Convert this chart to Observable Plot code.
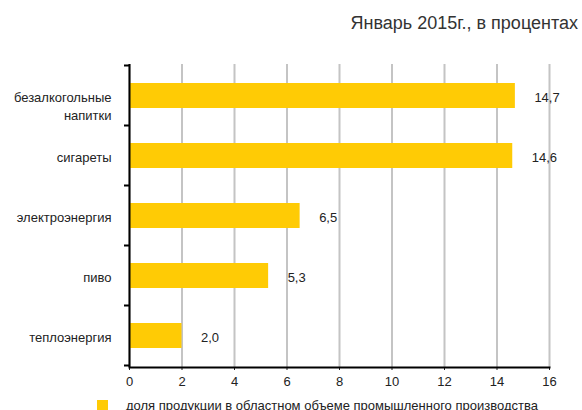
<!DOCTYPE html>
<html>
<head>
<meta charset="utf-8">
<script src="https://cdn.jsdelivr.net/npm/d3@7"></script>
<script src="https://cdn.jsdelivr.net/npm/@observablehq/plot@0.6"></script>
<style>
  html, body { margin: 0; padding: 0; background: #fff; }
  #wrap { position: relative; width: 582px; height: 410px; overflow: hidden; font-family: "Liberation Sans", Arial, sans-serif; }
  #title { position: absolute; right: 4px; top: 13px; font-family: "Liberation Sans", Arial, sans-serif; font-size: 18px; line-height: 20px; color: #333; white-space: nowrap; }
  #chart { position: absolute; left: 0; top: 0; }
  #legend { position: absolute; left: 97px; top: 398px; font-family: "Liberation Sans", Arial, sans-serif; font-size: 13px; line-height: 15px; color: #222; white-space: nowrap; display: flex; align-items: center; }
  #legend .sw { display: inline-block; width: 11px; height: 11px; background: #FFCB05; margin-right: 18px; }
</style>
</head>
<body>
<div id="wrap">
  <div id="chart"></div>
  <div id="title">Январь 2015г., в процентах</div>
  <div id="legend"><span class="sw"></span><span id="legendText"></span></div>
</div>
<script>
const categories = ["безалкогольные\nнапитки", "сигареты", "электроэнергия", "пиво", "теплоэнергия"];
const values = [14.7, 14.6, 6.5, 5.3, 2.0];
const xTicks = [0, 2, 4, 6, 8, 10, 12, 14, 16];
const seriesName = "доля продукции в областном объеме промышленного производства";

const barColor = "#FFCB05";
const data = categories.map((c, i) => ({cat: c, v: values[i]}));
const fmt = v => v.toFixed(1).replace(".", ",");

document.getElementById("legendText").textContent = seriesName;

// ticks at band boundaries on the y axis
function bandBoundaryTicks(index, scales, channels, dimensions) {
  const y = scales.y;
  const step = y.step(), bw = y.bandwidth();
  const g = d3.create("svg:g").attr("stroke", "#000").attr("stroke-width", 2);
  const x0 = dimensions.marginLeft;
  const ys = categories.map(c => y(c) - (step - bw) / 2);
  ys.push(y(categories[categories.length - 1]) + bw + (step - bw) / 2);
  for (const yy of ys) {
    g.append("line").attr("x1", x0 - 5).attr("x2", x0).attr("y1", yy).attr("y2", yy);
  }
  return g.node();
}

const plot = Plot.plot({
  width: 582,
  height: 410,
  marginTop: 64,
  marginBottom: 43,
  marginLeft: 129,
  marginRight: 33,
  style: {fontFamily: "'Liberation Sans', Arial, sans-serif", fontSize: "13px", color: "#222", background: "#fff"},
  x: {domain: [0, 16], ticks: xTicks},
  y: {domain: categories, paddingInner: 0.59, paddingOuter: 0.295, axis: null},
  marks: [
    Plot.gridX(xTicks, {stroke: "#c4c4c4", strokeOpacity: 1, strokeWidth: 2}),
    Plot.barX(data, {x: "v", y: "cat", fill: barColor}),
    Plot.axisX(xTicks, {tickSize: 3, tickPadding: 6, label: null, tickFormat: d => String(d), fontSize: 13}),
    Plot.ruleX([0], {stroke: "#000", strokeWidth: 2}),
    Plot.frame({anchor: "bottom", stroke: "#000", strokeWidth: 2}),
    bandBoundaryTicks,
    Plot.text(data.filter(d => !d.cat.includes("\n")), {y: "cat", text: "cat", frameAnchor: "left", textAnchor: "end", dx: -18, dy: 2, fill: "#222"}),
    Plot.text(data.filter(d => d.cat.includes("\n")), {y: "cat", text: "cat", frameAnchor: "left", textAnchor: "end", dx: -18, dy: 9.5, lineHeight: 1.38, fill: "#222"}),
    Plot.text(data, {x: "v", y: "cat", text: d => fmt(d.v), textAnchor: "start", dx: 19, dy: 2, fill: "#222"})
  ]
});
document.getElementById("chart").appendChild(plot);
</script>
</body>
</html>
